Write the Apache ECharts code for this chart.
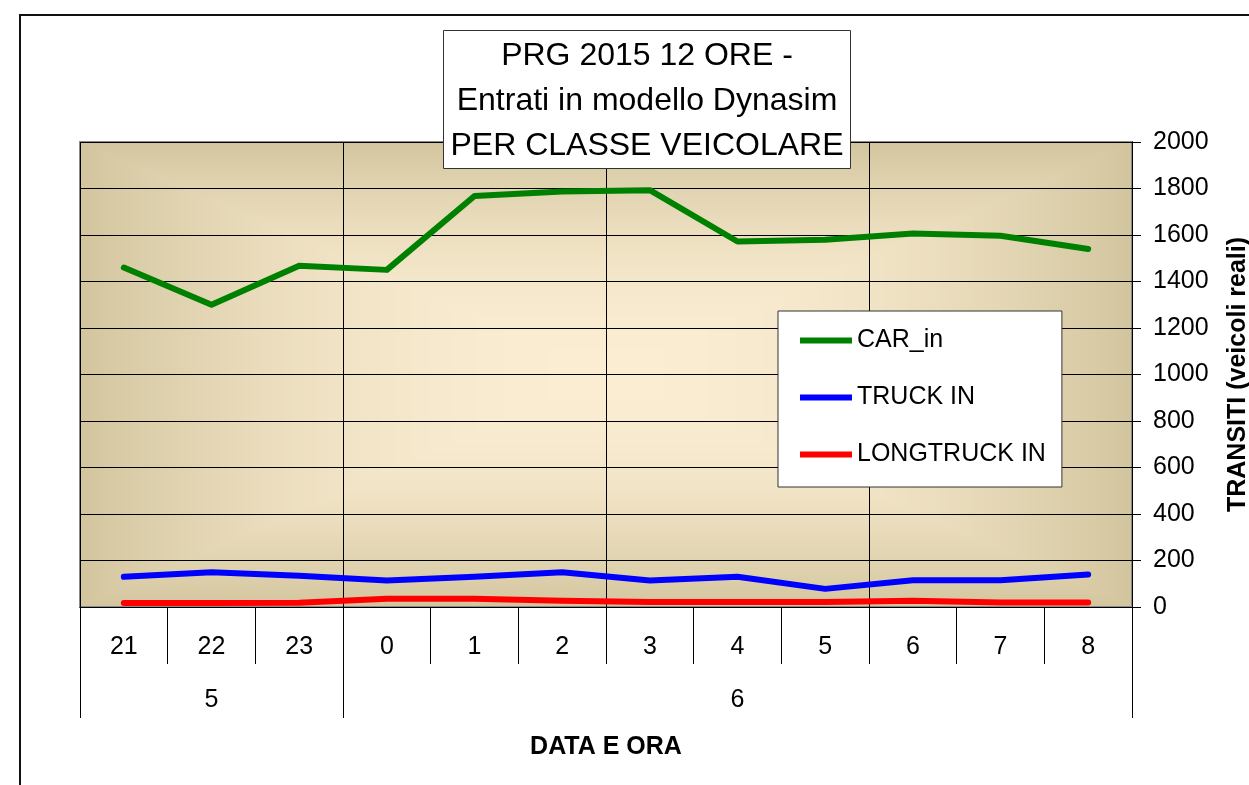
<!DOCTYPE html>
<html lang="it">
<head>
<meta charset="UTF-8" />
<title>PRG 2015 12 ORE - Entrati in modello Dynasim</title>
<script src="https://cdn.jsdelivr.net/npm/echarts@6/dist/echarts.min.js"></script>
<style>
  html, body { margin: 0; padding: 0; background: #fff; }
  #chart { width: 1249px; height: 785px; }
</style>
</head>
<body>
<div id="chart"></div>
<script>
// first row of the category axis: hour of the day
const hours = ['21', '22', '23', '0', '1', '2', '3', '4', '5', '6', '7', '8'];
// second row: day of the month, written under the middle of its hours
const days = ['', '5', '', '', '', '', '', '6', '', '', '', ''];
const dayStarts = [0, 3];

const carIn = [1460, 1300, 1468, 1450, 1768, 1787, 1793, 1572, 1580, 1606, 1597, 1540];
const truckIn = [130, 149, 134, 114, 130, 149, 114, 130, 78, 115, 115, 140];
const longTruckIn = [17, 17, 18, 36, 35, 27, 21, 21, 21, 27, 19, 19];

const yMin = 0, yMax = 2000, yStep = 200;

const FONT = 'Liberation Sans, Arial, sans-serif';
const PLOT = { left: 80, top: 142, width: 1052, height: 465 };

// Excel style "from centre" fill: cream in the middle, tan at the border
function plotTexture() {
  const c = document.createElement('canvas');
  c.width = 1249; c.height = 785;
  const ctx = c.getContext('2d');
  const img = ctx.createImageData(PLOT.width, PLOT.height);
  const inner = [251, 237, 210], outer = [210, 197, 158];
  const hw = PLOT.width / 2, hh = PLOT.height / 2;
  for (let y = 0; y < PLOT.height; y++) {
    for (let x = 0; x < PLOT.width; x++) {
      const t = Math.max(Math.abs(x + 0.5 - hw) / hw, Math.abs(y + 0.5 - hh) / hh);
      const m = t * t;
      const k = (y * PLOT.width + x) * 4;
      for (let i = 0; i < 3; i++) img.data[k + i] = inner[i] + (outer[i] - inner[i]) * m;
      img.data[k + 3] = 255;
    }
  }
  ctx.putImageData(img, PLOT.left, PLOT.top);
  return { image: c, repeat: 'no-repeat' };
}

const chart = echarts.init(document.getElementById('chart'));

const black = { color: '#000', width: 1 };

function lineSeries(name, data, color) {
  return {
    name: name,
    type: 'line',
    data: data,
    symbol: 'none',
    lineStyle: { color: color, width: 6, cap: 'round', join: 'round' },
    itemStyle: { color: color },
    z: 5
  };
}

chart.setOption({
  animation: false,
  textStyle: { fontFamily: FONT, color: '#000' },
  title: {
    text: 'PRG 2015 12 ORE -\nEntrati in modello Dynasim\nPER CLASSE VEICOLARE',
    left: 640,
    top: 30,
    textAlign: 'center',
    backgroundColor: '#fff',
    borderColor: '#333',
    borderWidth: 1,
    padding: [4, 7, 0, 7],
    textStyle: { fontFamily: FONT, fontSize: 32, fontWeight: 'normal', color: '#000', lineHeight: 45 }
  },
  legend: {
    orient: 'vertical',
    left: 778,
    top: 311,
    padding: [17, 16, 20, 22],
    itemGap: 32,
    itemWidth: 52,
    itemHeight: 6,
    icon: 'rect',
    backgroundColor: '#fff',
    borderColor: '#333',
    borderWidth: 1,
    textStyle: { fontFamily: FONT, fontSize: 25, color: '#000' },
    data: ['CAR_in', 'TRUCK IN', 'LONGTRUCK IN']
  },
  graphic: [{
    type: 'rect',
    silent: true,
    shape: { x: 20, y: 15, width: 1400, height: 1000 },
    style: { fill: 'none', stroke: '#111', lineWidth: 2 }
  }],
  grid: {
    left: PLOT.left,
    top: PLOT.top,
    width: PLOT.width,
    height: PLOT.height,
    outerBoundsMode: 'none',
    containLabel: false,
    show: true,
    backgroundColor: plotTexture(),
    borderColor: '#8a8a8a',
    borderWidth: 2
  },
  xAxis: [{
    type: 'category',
    data: hours,
    position: 'bottom',
    boundaryGap: true,
    axisLine: { show: true, lineStyle: black },
    axisTick: { show: true, interval: 0, length: 57, lineStyle: black },
    axisLabel: { interval: 0, margin: 28, fontSize: 25, fontFamily: FONT, color: '#000' },
    splitLine: { show: true, interval: function (i) { return i % 3 === 0; }, lineStyle: black }
  }, {
    type: 'category',
    data: days,
    position: 'bottom',
    boundaryGap: true,
    axisLine: { show: false },
    axisTick: {
      show: true,
      interval: function (i) { return dayStarts.indexOf(i) >= 0; },
      length: 111,
      lineStyle: black
    },
    axisLabel: { interval: 0, margin: 81, fontSize: 25, fontFamily: FONT, color: '#000' },
    splitLine: { show: false },
    name: 'DATA E ORA',
    nameLocation: 'middle',
    nameGap: 128,
    nameTextStyle: { fontFamily: FONT, fontSize: 25, fontWeight: 'bold', color: '#000' }
  }],
  yAxis: {
    type: 'value',
    position: 'right',
    min: yMin,
    max: yMax,
    interval: yStep,
    axisLine: { show: true, lineStyle: black },
    axisTick: { show: true, length: 9, lineStyle: black },
    axisLabel: {
      margin: 21, fontSize: 25, fontFamily: FONT, color: '#000',
      formatter: function (v) { return String(v); }
    },
    splitLine: { show: true, lineStyle: black },
    name: 'TRANSITI (veicoli reali)',
    nameLocation: 'middle',
    nameRotate: 90,
    nameGap: 94,
    nameTextStyle: { fontFamily: FONT, fontSize: 25, fontWeight: 'bold', color: '#000' }
  },
  series: [
    lineSeries('CAR_in', carIn, '#008000'),
    lineSeries('TRUCK IN', truckIn, '#0000ff'),
    lineSeries('LONGTRUCK IN', longTruckIn, '#ff0000')
  ]
});
</script>
</body>
</html>
